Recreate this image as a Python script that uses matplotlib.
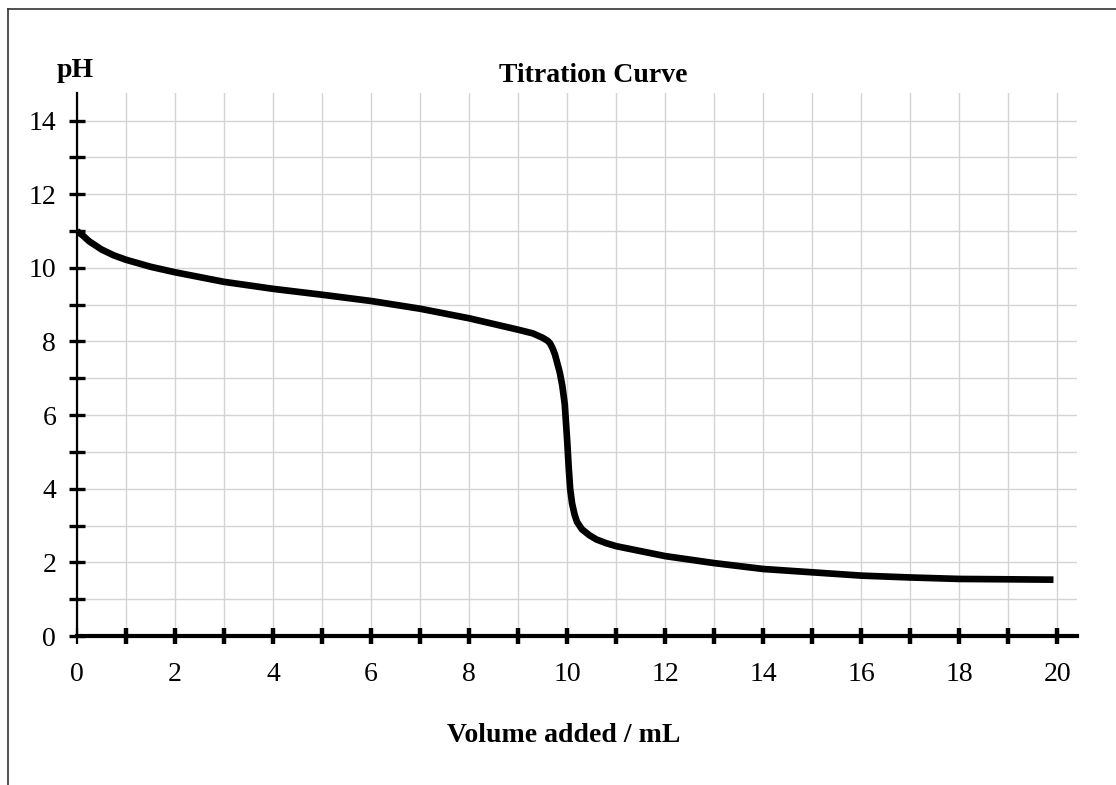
import matplotlib
matplotlib.use("Agg")
import matplotlib.pyplot as plt
from matplotlib.lines import Line2D
import numpy as np

# ---- data ----
volume_ml = [0.0, 0.1, 0.25, 0.5, 0.75, 1.0, 1.5, 2.0, 3.0, 4.0, 5.0, 6.0, 7.0, 8.0,
             9.0, 9.3, 9.5, 9.6, 9.65, 9.70, 9.75, 9.80, 9.85, 9.90, 9.95,
             10.0, 10.03, 10.06, 10.10, 10.15, 10.20, 10.30, 10.45, 10.60,
             10.80, 11.0, 12.0, 13.0, 14.0, 15.0, 16.0, 17.0, 18.0, 19.0, 19.92]
ph_values = [11.0, 10.9, 10.72, 10.5, 10.34, 10.22, 10.03, 9.88, 9.62, 9.43, 9.27, 9.10, 8.89, 8.63,
             8.32, 8.22, 8.10, 8.02, 7.95, 7.82, 7.65, 7.40, 7.15, 6.80, 6.30,
             5.30, 4.60, 4.00, 3.60, 3.30, 3.10, 2.90, 2.74, 2.62,
             2.52, 2.44, 2.17, 1.98, 1.82, 1.73, 1.64, 1.59, 1.55, 1.54, 1.53]
x_tick_labels = ["0", "2", "4", "6", "8", "10", "12", "14", "16", "18", "20"]
y_tick_labels = ["0", "2", "4", "6", "8", "10", "12", "14"]

W, H = 1116, 785
fig = plt.figure(figsize=(W / 100, H / 100), dpi=100)
serif = ["Liberation Serif", "DejaVu Serif"]

ax = fig.add_axes([77 / W, 1 - 636 / H, (1077 - 77) / W, (636 - 93) / H])
ax.set_xlim(0, 20.4)
ax.set_ylim(0, 14.75)

# grid every unit
ax.set_xticks(np.arange(0, 21, 1))
ax.set_yticks(np.arange(0, 15, 1))
ax.set_xticklabels([x_tick_labels[i // 2] if i % 2 == 0 else "" for i in range(21)])
ax.set_yticklabels([y_tick_labels[i // 2] if i % 2 == 0 else "" for i in range(15)])
ax.grid(True, color="#d4d4d4", linewidth=1.0, zorder=0)
ax.set_axisbelow(True)

for s in ["top", "right"]:
    ax.spines[s].set_visible(False)
ax.spines["left"].set_linewidth(1.6)
ax.spines["bottom"].set_linewidth(3.0)
ax.spines["left"].set_zorder(3)
ax.spines["bottom"].set_zorder(3)

ax.tick_params(axis="x", direction="inout", length=12, width=3.2, pad=13,
               labelsize=20, colors="black")
ax.tick_params(axis="y", direction="inout", length=12, width=2.4, pad=9,
               labelsize=20, colors="black")
for lab in ax.get_xticklabels() + ax.get_yticklabels():
    lab.set_family(serif)
# x=0 tick is just the thin extension of the y axis
t0 = ax.xaxis.get_major_ticks()[0]
t0.tick1line.set_markeredgewidth(1.6)

ax.plot(volume_ml, ph_values, color="black", linewidth=4.8,
        solid_capstyle="butt", solid_joinstyle="round", zorder=4)

fig.text(593.5 / W, 1 - 82 / H, "Titration Curve", ha="center", va="baseline",
         fontsize=20, fontweight="bold", family=serif)
fig.text(57 / W, 1 - 77 / H, "pH", ha="left", va="baseline",
         fontsize=20, fontweight="bold", family=serif)
fig.text(563.5 / W, 1 - 742 / H, "Volume added / mL", ha="center", va="baseline",
         fontsize=20, fontweight="bold", family=serif)

# page frame (left and top edges)
fig.add_artist(Line2D([8 / W, 8 / W], [0, 1 - 9 / H], transform=fig.transFigure,
                      color="#333333", linewidth=1.2))
fig.add_artist(Line2D([8 / W, 1], [1 - 9 / H, 1 - 9 / H], transform=fig.transFigure,
                      color="#333333", linewidth=1.2))

fig.savefig("out.png", dpi=100)
